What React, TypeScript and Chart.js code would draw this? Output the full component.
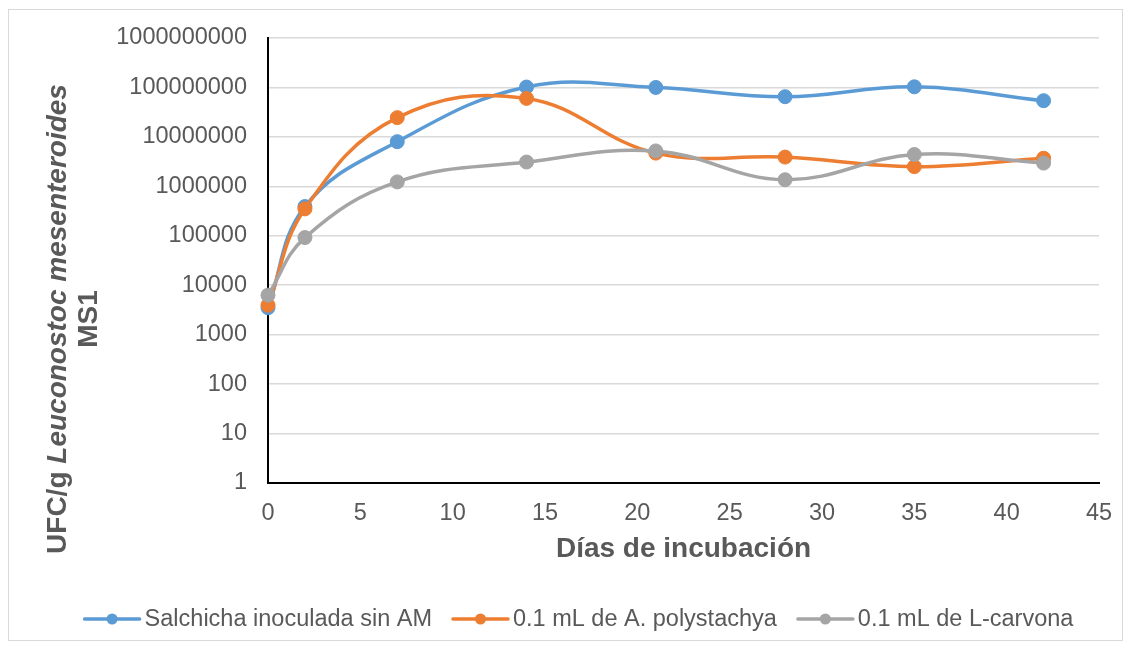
import React, { useEffect, useRef } from 'react';
import { Chart, registerables } from 'chart.js';

Chart.register(...registerables);

// ---- data ----
const days = [0, 2, 7, 14, 21, 28, 35, 42];
const seriesNames = ['Salchicha inoculada sin AM', '0.1 mL de A. polystachya', '0.1 mL de L-carvona'];
const salchicha = [3500, 390000, 8000000, 102000000, 100000000, 65000000, 103000000, 54000000];
const polystachya = [3950, 350000, 24500000, 60000000, 4700000, 3900000, 2500000, 3700000];
const carvona = [6300, 92000, 1230000, 3100000, 5200000, 1360000, 4400000, 2950000];
const yTicks = [1, 10, 100, 1000, 10000, 100000, 1000000, 10000000, 100000000, 1000000000];
const xTicks = [0, 5, 10, 15, 20, 25, 30, 35, 40, 45];
const xTitle = 'Días de incubación';
const yTitleNormal = 'UFC/g ';
const yTitleItalic = 'Leuconostoc mesenteroides';
const yTitleLine2 = 'MS1';

const colors = ['#5B9BD5', '#ED7D31', '#A5A5A5'];
const W = 1115;
const H = 633;
const FONT = "'Liberation Sans', Arial, Helvetica, sans-serif";
const TEXT = '#595959';

const decorPlugin = {
  id: 'decor',
  beforeDraw(chart: any) {
    const ctx = chart.ctx;
    ctx.save();
    ctx.fillStyle = '#ffffff';
    ctx.fillRect(0, 0, chart.width, chart.height);
    ctx.strokeStyle = '#d9d9d9';
    ctx.lineWidth = 1;
    ctx.strokeRect(0.5, 1.5, chart.width - 1, chart.height - 2);
    ctx.restore();
  },
  afterDraw(chart: any) {
    const ctx = chart.ctx;
    ctx.save();
    // y-axis title (mixed style)
    ctx.fillStyle = TEXT;
    ctx.textBaseline = 'middle';
    ctx.textAlign = 'left';
    const fN = `bold 28px ${FONT}`;
    const fI = `italic bold 28px ${FONT}`;
    ctx.font = fN;
    const w1 = ctx.measureText(yTitleNormal).width;
    ctx.font = fI;
    const w2 = ctx.measureText(yTitleItalic).width;
    const total = w1 + w2;
    const cy = 311;
    ctx.save();
    ctx.translate(50, cy);
    ctx.rotate(-Math.PI / 2);
    ctx.font = fN;
    ctx.fillText(yTitleNormal, -total / 2, 0);
    ctx.font = fI;
    ctx.fillText(yTitleItalic, -total / 2 + w1, 0);
    ctx.restore();
    ctx.save();
    ctx.translate(81, cy);
    ctx.rotate(-Math.PI / 2);
    ctx.font = fN;
    ctx.textAlign = 'center';
    ctx.fillText(yTitleLine2, 0, 0);
    ctx.restore();

    // legend
    ctx.font = `23.5px ${FONT}`;
    const lineLen = 55;
    const gapText = 5;
    const gapItem = 21;
    const widths = seriesNames.map((n) => ctx.measureText(n).width);
    const totalW = widths.reduce((a, b) => a + b, 0) + seriesNames.length * (lineLen + gapText) + gapItem * (seriesNames.length - 1);
    let x = 571 - totalW / 2;
    const ly = 611;
    seriesNames.forEach((n, i) => {
      ctx.strokeStyle = colors[i];
      ctx.lineWidth = 3.5;
      ctx.lineCap = 'round';
      ctx.beginPath();
      ctx.moveTo(x, ly);
      ctx.lineTo(x + lineLen, ly);
      ctx.stroke();
      ctx.fillStyle = colors[i];
      ctx.beginPath();
      ctx.arc(x + lineLen / 2, ly, 5.5, 0, Math.PI * 2);
      ctx.fill();
      ctx.fillStyle = TEXT;
      ctx.textAlign = 'left';
      ctx.textBaseline = 'middle';
      ctx.fillText(n, x + lineLen + gapText, ly + 1);
      x += lineLen + gapText + widths[i] + gapItem;
    });
    ctx.restore();
  },
};

export default function App() {
  const ref = useRef<HTMLCanvasElement | null>(null);
  useEffect(() => {
    if (!ref.current) return;
    const series = [salchicha, polystachya, carvona];
    const chart = new Chart(ref.current, {
      type: 'line',
      data: {
        datasets: series.map((s, i) => ({
          label: seriesNames[i],
          data: days.map((d, j) => ({ x: d, y: s[j] })),
          borderColor: colors[i],
          backgroundColor: colors[i],
          pointBackgroundColor: colors[i],
          pointBorderColor: colors[i],
          borderWidth: 3.5,
          pointRadius: 7,
          pointBorderWidth: 1,
          tension: 0.4,
          clip: false as any,
          order: 3 - i,
        })),
      },
      options: {
        responsive: false,
        animation: false,
        devicePixelRatio: 1,
        layout: { padding: { left: 10, right: 24, top: 30, bottom: 0 } },
        plugins: {
          legend: { display: false },
          tooltip: { enabled: false },
        },
        scales: {
          x: {
            type: 'linear',
            min: 0,
            max: 45,
            afterBuildTicks: (s: any) => {
              s.ticks = xTicks.map((v) => ({ value: v }));
            },
            afterFit: (s: any) => {
              s.height = 158;
              s.paddingLeft = 0;
              s.paddingRight = 0;
            },
            grid: { display: false, drawTicks: false },
            border: { display: true, color: '#000000', width: 2 },
            ticks: {
              padding: 16,
              color: TEXT,
              font: { family: FONT, size: 23.5 },
              maxRotation: 0,
              callback: (v: any) => String(v),
            },
            title: {
              display: true,
              text: xTitle,
              color: TEXT,
              font: { family: FONT, size: 28, weight: 'bold' },
              padding: { top: 0, bottom: 75 },
            },
          },
          y: {
            type: 'logarithmic',
            min: 1,
            max: 1000000000,
            afterBuildTicks: (s: any) => {
              s.ticks = yTicks.map((v) => ({ value: v }));
            },
            afterFit: (s: any) => {
              s.width = 250;
              s.paddingTop = 0;
              s.paddingBottom = 0;
            },
            grid: { color: '#d9d9d9', lineWidth: 1.5, drawTicks: false },
            border: { display: true, color: '#000000', width: 2 },
            ticks: {
              padding: 21,
              color: TEXT,
              font: { family: FONT, size: 23.5 },
              callback: (v: any) => Number(v).toFixed(0),
            },
          },
        },
      },
      plugins: [decorPlugin],
    } as any);
    return () => chart.destroy();
  }, []);
  return (
    <div style={{ width: W, height: H }}>
      <canvas ref={ref} width={W} height={H} style={{ display: 'block', width: W, height: H }} />
    </div>
  );
}
